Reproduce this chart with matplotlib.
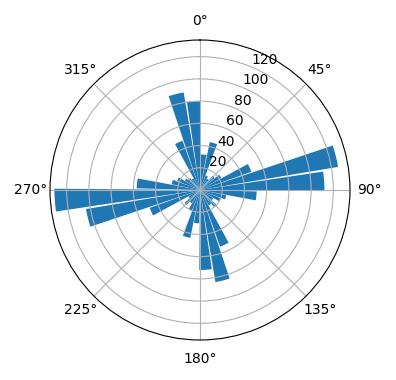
import numpy as np
import matplotlib as mpl
mpl.use('Agg')
import matplotlib.pyplot as plt

# 36 direction bins of 10 degrees, counts
bin_start_deg = np.arange(36) * 10 + 1.5
counts = [32, 44, 14, 12, 17, 22, 49, 126, 112,
          51, 24, 20, 14, 20, 16, 54, 84, 72,
          30, 44, 20, 14, 18, 12, 48, 104, 131,
          57, 26, 22, 16, 14, 12, 47, 89, 80]

fig = plt.figure(figsize=(3.96, 3.8), dpi=100)
ax = fig.add_axes([50/396, 40/380, 300/396, 300/380], projection='polar')
ax.set_theta_zero_location('N')
ax.set_theta_direction(-1)

ax.bar(np.deg2rad(bin_start_deg), counts, width=np.deg2rad(9), align='edge', color='#1f77b4')

ax.set_ylim(0, 135)
ax.set_yticks([20, 40, 60, 80, 100, 120])

fig.savefig('out.png', dpi=100)
